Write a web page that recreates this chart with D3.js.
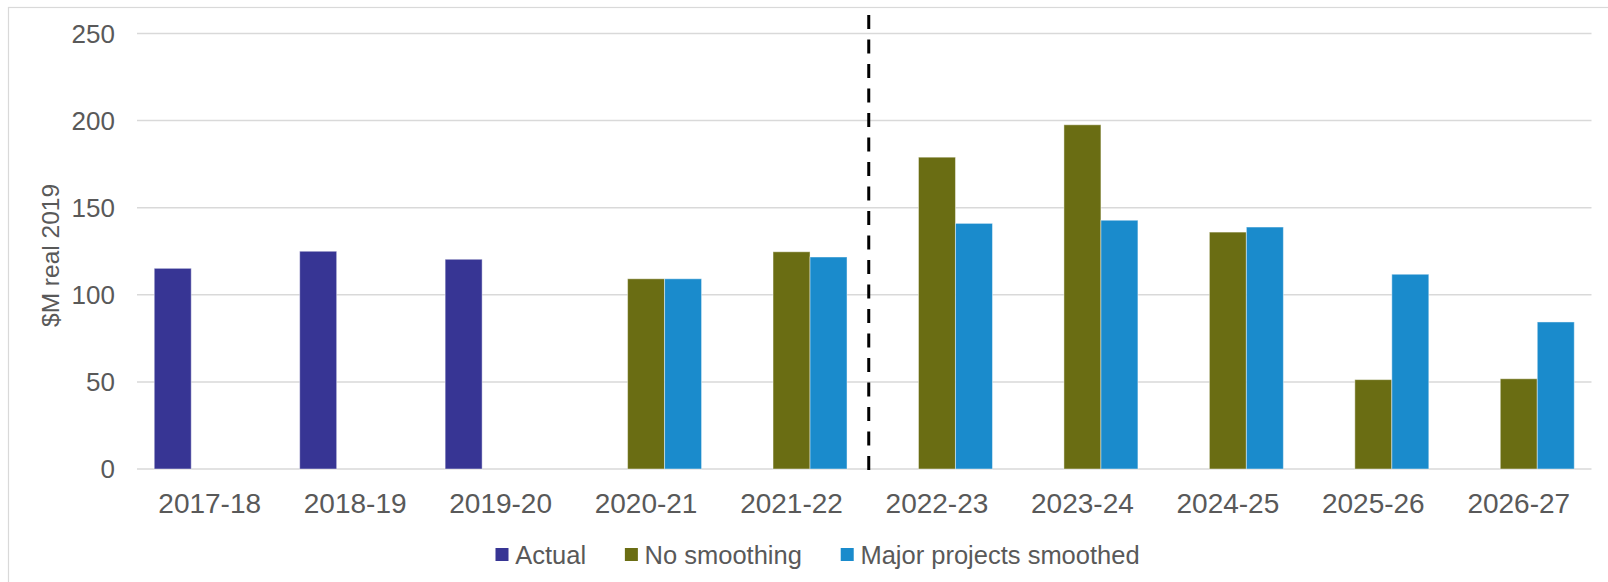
<!DOCTYPE html>
<html>
<head>
<meta charset="utf-8">
<script src="https://cdn.jsdelivr.net/npm/d3@7"></script>
<style>
  html, body { margin: 0; padding: 0; background: #ffffff; }
  svg { display: block; }
  text { font-family: "Liberation Sans", Arial, sans-serif; fill: #595959; }
</style>
</head>
<body>
<svg id="chart" width="1608" height="582"></svg>
<script>
const categories = ["2017-18","2018-19","2019-20","2020-21","2021-22","2022-23","2023-24","2024-25","2025-26","2026-27"];
const seriesNames = ["Actual","No smoothing","Major projects smoothed"];
const actual      = [115.2, 125.0, 120.4, null, null, null, null, null, null, null];
const noSmoothing = [null, null, null, 109.2, 124.7, 179.0, 197.6, 136.0, 51.3, 51.8];
const majorSmooth = [null, null, null, 109.2, 121.7, 141.0, 142.8, 138.9, 111.8, 84.4];
const yTicks = [0, 50, 100, 150, 200, 250];
const colors = ["#373594", "#6A6D13", "#1A8BCC"];
const yTitle = "$M real 2019";
const dividerAfter = "2021-22";

const seriesValues = [actual, noSmoothing, majorSmooth];

const svg = d3.select("#chart");
const plot = { left: 137, right: 1591.5, top: 33.5, bottom: 469 };

// outer chart border
svg.append("rect")
  .attr("x", 8.5).attr("y", 7.5)
  .attr("width", 1700).attr("height", 700)
  .attr("fill", "none").attr("stroke", "#d9d9d9").attr("stroke-width", 1.2);

const x = d3.scaleBand().domain(categories).range([plot.left, plot.right]).paddingInner(0).paddingOuter(0);
const bw = x.bandwidth();
const slotPad = bw * 0.1185;
const xs = d3.scaleBand().domain(d3.range(seriesNames.length)).range([slotPad, bw - slotPad]).padding(0);
const y = d3.scaleLinear().domain([0, 250]).range([plot.bottom, plot.top]);

// gridlines
svg.append("g").selectAll("line").data(yTicks).join("line")
  .attr("x1", plot.left).attr("x2", plot.right)
  .attr("y1", d => y(d)).attr("y2", d => y(d))
  .attr("stroke", "#d9d9d9").attr("stroke-width", 1.5);

// y tick labels
svg.append("g").selectAll("text").data(yTicks).join("text")
  .attr("x", 115).attr("y", d => y(d) + 9.2)
  .attr("text-anchor", "end")
  .style("font-size", "26px")
  .text(d => d);

// x labels
svg.append("g").selectAll("text").data(categories).join("text")
  .attr("x", d => x(d) + bw / 2)
  .attr("y", 512.5)
  .attr("text-anchor", "middle")
  .style("font-size", "28px")
  .text(d => d);

// y title
svg.append("text")
  .attr("transform", "translate(59,255.5) rotate(-90)")
  .attr("text-anchor", "middle")
  .style("font-size", "24.5px")
  .text(yTitle);

// bars
const barData = [];
seriesValues.forEach((vals, si) => {
  vals.forEach((v, ci) => {
    if (v !== null) barData.push({ si, cat: categories[ci], v });
  });
});
svg.append("g").selectAll("rect").data(barData).join("rect")
  .attr("x", d => x(d.cat) + xs(d.si))
  .attr("y", d => y(d.v))
  .attr("width", xs.bandwidth())
  .attr("height", d => y(0) - y(d.v))
  .attr("fill", d => colors[d.si])
  .attr("stroke", "rgba(255,255,255,0.45)")
  .attr("stroke-width", 1);

// dashed divider
const dx = x(dividerAfter) + bw + 4.5;
svg.append("line")
  .attr("x1", dx).attr("x2", dx)
  .attr("y1", 15).attr("y2", 473)
  .attr("stroke", "#000").attr("stroke-width", 3)
  .attr("stroke-dasharray", "14,10.5");

// legend
const legend = svg.append("g");
let cx = 495.5;
seriesNames.forEach((name, i) => {
  legend.append("rect")
    .attr("x", cx).attr("y", 548)
    .attr("width", 13).attr("height", 13)
    .attr("fill", colors[i]);
  const tx = cx + 19.7;
  const t = legend.append("text")
    .attr("x", tx).attr("y", 564)
    .style("font-size", "25.5px")
    .text(name);
  const w = t.node().getComputedTextLength();
  cx = tx + w + 38.8;
});
</script>
</body>
</html>
